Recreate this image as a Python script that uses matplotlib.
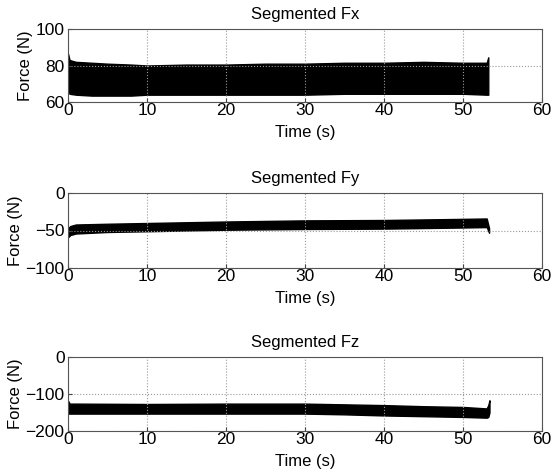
import matplotlib.pyplot as plt
import numpy as np

plt.rcParams['font.family'] = ['Liberation Sans', 'DejaVu Sans']

fx_t = [0, 0.2, 1, 3, 5, 8, 10, 15, 20, 25, 30, 35, 40, 45, 50, 53.0, 53.2]
fx_hi = [86.5, 83, 82, 81.5, 81, 80.5, 80, 80.5, 80.5, 81, 81, 81.5, 81.5, 82, 81.5, 81.5, 84.5]
fx_lo = [66, 64.5, 64, 63.5, 63.5, 63.5, 64, 64, 64, 64, 64, 64.5, 64.5, 64.5, 64.5, 64, 64]

fy_t = [0, 0.3, 1, 3, 5, 10, 15, 20, 30, 40, 50, 52.8, 53.0, 53.3]
fy_hi = [-47, -44, -42, -41.5, -41, -40, -39, -38, -36.5, -36, -34.5, -34, -34, -47]
fy_lo = [-59, -56, -54, -53, -52, -51, -50, -49, -48, -47.5, -46, -45.5, -45.5, -53]

fz_t = [0, 0.2, 1, 10, 20, 30, 35, 40, 45, 50, 53.0, 53.2, 53.35]
fz_hi = [-118, -126, -126, -127, -126, -126, -128, -130, -133, -135, -139, -130, -117]
fz_lo = [-153, -153, -153, -153, -153, -153, -155, -158, -160, -162, -164, -162, -150]

titles = ['Segmented Fx', 'Segmented Fy', 'Segmented Fz']
ylims = [(60, 100), (-100, 0), (-200, 0)]
yticks = [[60, 80, 100], [-100, -50, 0], [-200, -100, 0]]
xticks = [0, 10, 20, 30, 40, 50, 60]

fig = plt.figure(figsize=(5.51, 4.72), dpi=100)
W, H = 551., 472.
boxes = [(68, 29, 542, 102), (68, 193, 542, 268), (68, 357, 542, 431)]
data = [(fx_t, fx_hi, fx_lo), (fy_t, fy_hi, fy_lo), (fz_t, fz_hi, fz_lo)]

for i in range(3):
    x0, y0, x1, y1 = boxes[i]
    ax = fig.add_axes([x0 / W, 1 - y1 / H, (x1 - x0) / W, (y1 - y0) / H])
    t, hi, lo = data[i]
    ax.fill_between(t, lo, hi, color='black', lw=1.0, edgecolor='black')
    ax.set_xlim(0, 60)
    ax.set_ylim(*ylims[i])
    ax.set_xticks(xticks)
    ax.set_yticks(yticks[i])
    ax.grid(True, ls=':', color='#999999', lw=0.8)
    ax.tick_params(direction='in', labelsize=12.5, length=3, color='#444444')
    ax.tick_params(axis='x', pad=0.5)
    ax.tick_params(axis='y', pad=2.5)
    ax.set_title(titles[i], fontsize=12, pad=7)
    ax.set_xlabel('Time (s)', fontsize=12, labelpad=5.5)
    ax.set_ylabel('Force (N)', fontsize=12, labelpad=2)
    for s in ax.spines.values():
        s.set_color('#555555')

fig.savefig('out.png', dpi=100)
